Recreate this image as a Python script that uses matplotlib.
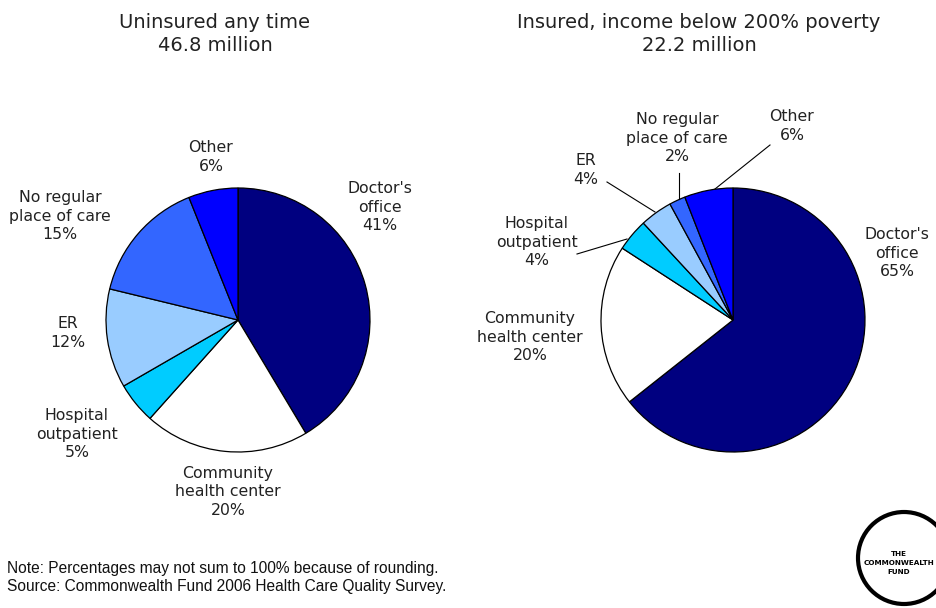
import matplotlib.pyplot as plt
from matplotlib.patches import Circle

# data
categories = ["Doctor's\noffice", "Community\nhealth center", "Hospital\noutpatient",
              "ER", "No regular\nplace of care", "Other"]
uninsured = [41, 20, 5, 12, 15, 6]
insured_low = [65, 20, 4, 4, 2, 6]
titles = ["Uninsured any time\n46.8 million",
          "Insured, income below 200% poverty\n22.2 million"]
colors = ["#000080", "#FFFFFF", "#00CCFF", "#99CCFF", "#3366FF", "#0000FF"]

W, H = 937, 608


def py(y):
    # pixel row -> data y
    return H - y


fig = plt.figure(figsize=(W / 100, H / 100), dpi=100)
ax = fig.add_axes([0, 0, 1, 1])

wp = dict(edgecolor="black", linewidth=0.9)
ax.pie(uninsured, colors=colors, startangle=90, counterclock=False,
       center=(238, py(320)), radius=132, wedgeprops=wp)
ax.pie(insured_low, colors=colors, startangle=90, counterclock=False,
       center=(733, py(320)), radius=132, wedgeprops=wp)

ax.set_xlim(0, W)
ax.set_ylim(0, H)
ax.set_aspect("equal")
ax.axis("off")

lab_font = dict(fontsize=11.3, color="#222222", ha="center", va="center",
                family="DejaVu Sans", linespacing=1.3)

# left pie labels
left_pos = [(380, 207), (228, 492), (77, 434), (68, 333), (60, 216), (211, 157)]
for name, v, (x, y) in zip(categories, uninsured, left_pos):
    ax.text(x, py(y), f"{name}\n{v}%", **lab_font)

# right pie labels
right_pos = [(897, 253), (530, 337), (537, 242), (586, 170), (677, 138), (792, 126)]
for name, v, (x, y) in zip(categories, insured_low, right_pos):
    ax.text(x, py(y), f"{name}\n{v}%", **lab_font)

# leader lines on the right pie
leaders = [((577, 254), (627, 239)), ((607, 182), (655, 212)),
           ((679, 173), (679, 199)), ((770, 145), (715, 189))]
for (x0, y0), (x1, y1) in leaders:
    ax.plot([x0, x1], [py(y0), py(y1)], color="black", linewidth=0.8)

# titles
ax.text(215, py(34), titles[0], fontsize=14, ha="center", va="center",
        color="#222222", linespacing=1.3)
ax.text(699, py(34), titles[1], fontsize=14, ha="center", va="center",
        color="#222222", linespacing=1.3)

# note
ax.text(7, py(578), "Note: Percentages may not sum to 100% because of rounding.\n"
        "Source: Commonwealth Fund 2006 Health Care Quality Survey.",
        fontsize=11.2, family="Liberation Sans", ha="left", va="center",
        linespacing=1.25, color="#111111")

# logo
ax.add_patch(Circle((904, py(558)), 46, facecolor="white", edgecolor="black",
                    linewidth=3, clip_on=False))
ax.text(899, py(563), "THE\nCOMMONWEALTH\nFUND", fontsize=5.2, fontweight="bold",
        ha="center", va="center", linespacing=1.6)

fig.savefig("out.png", dpi=100)
